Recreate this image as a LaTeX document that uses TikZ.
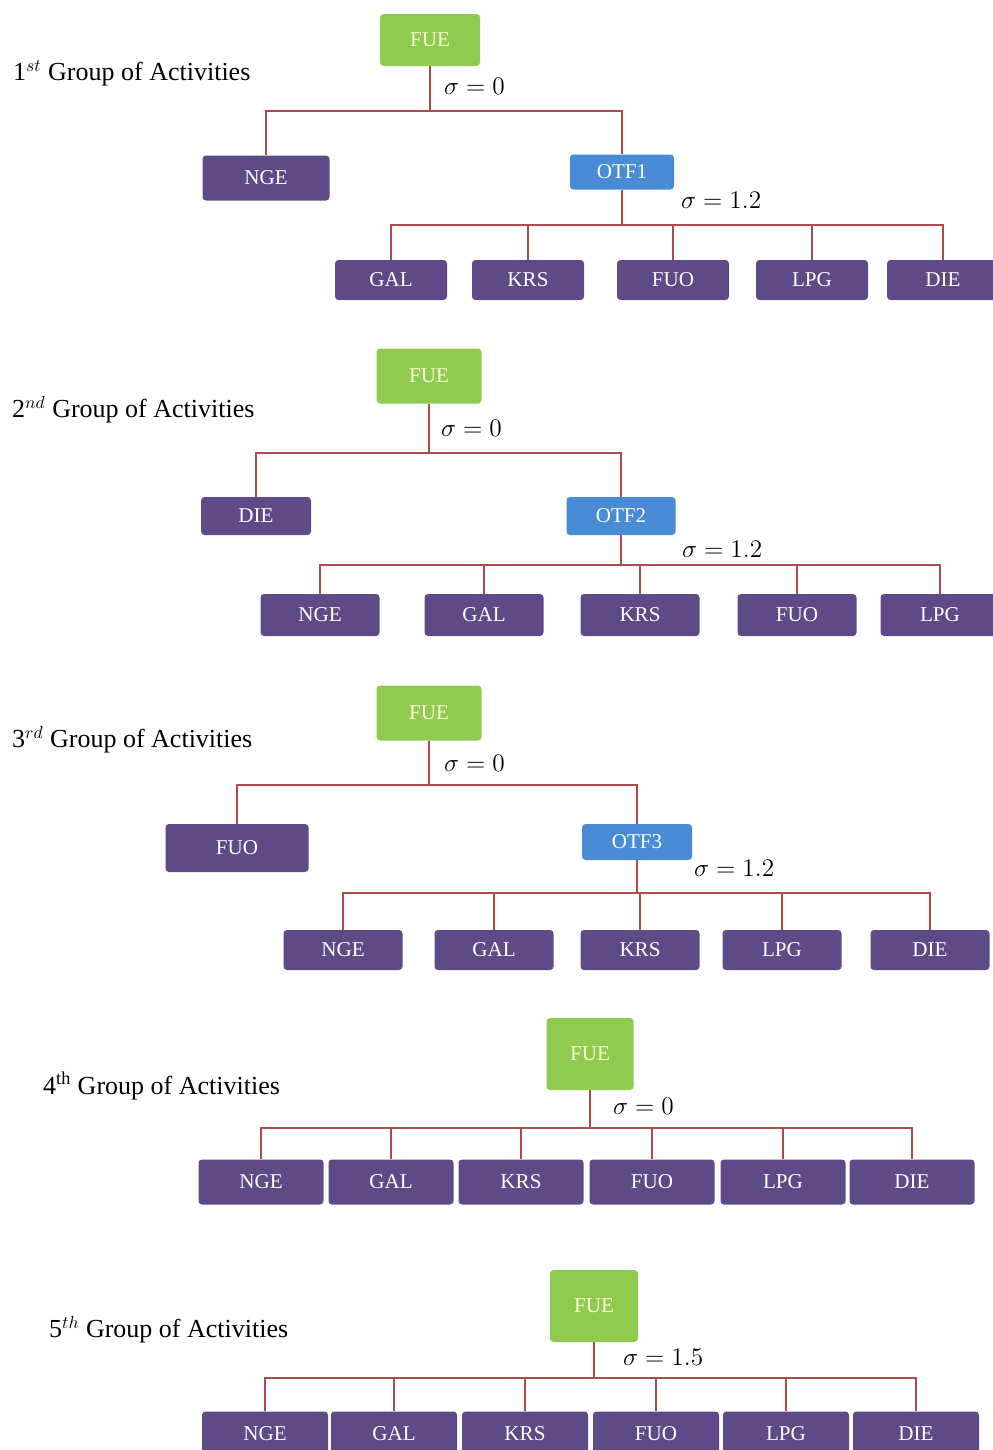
\documentclass[tikz,border=0pt]{standalone}
\usepackage{fontspec}
\setmainfont{Liberation Serif}
\usepackage{tikz}
\usetikzlibrary{positioning,calc}
\definecolor{fuegreen}{HTML}{8FCB4E}
\definecolor{leafpurple}{HTML}{5E4A86}
\definecolor{otfblue}{HTML}{4A8BD6}
\definecolor{linkred}{HTML}{AE4A4E}

\tikzset{
  boxsize/.style 2 args={minimum width=#1*0.02cm, minimum height=#2*0.02cm},
  box/.style={rounded corners=2pt, inner sep=0pt, text=white, font=\fontsize{12}{14}\selectfont},
  root/.style={box, fill=fuegreen, text=white!85!yellow},
  leaf/.style={box, fill=leafpurple},
  otf/.style={box, fill=otfblue},
  link/.style={draw=linkred, line width=1pt},
  grouplabel/.style={anchor=west, font=\fontsize{14.8}{17}\selectfont},
  sigmalabel/.style={anchor=west, font=\fontsize{14}{16}\selectfont}
}

\begin{document}
\begin{tikzpicture}[x=0.02cm,y=-0.02cm]
  \useasboundingbox (0,0) rectangle (993,1450);

  % 1st group
  \node[grouplabel] (lab1) at (7,73) {1$^{st}$ Group of Activities};
  \node[root, boxsize={100}{52}] (fue1) at (430,40) {FUE};
  \node[leaf, boxsize={127}{45}] (nge1) at (266,178) {NGE};
  \node[otf, boxsize={104}{35}] (otf1) at (622,172) {OTF1};
  \coordinate (j1) at (430,111);
  \coordinate (k1) at (622,225);
  \draw[link] (fue1.south) -- (j1) -| (nge1.north);
  \draw[link] (j1) -| (otf1.north);
  \draw[link] (otf1.south) -- (k1);
  \foreach \lbl/\cx in {GAL/391, KRS/528, FUO/673, LPG/812, DIE/943} {
    \node[leaf, boxsize={112}{40}] (a\lbl) at (\cx,280) {\lbl};
    \draw[link] (k1) -| (a\lbl.north);
  }
  \node[sigmalabel] (s1a) at (438,86) {$\sigma = 0$};
  \node[sigmalabel] (s1b) at (675,200) {$\sigma = 1.2$};

  % 2nd group
  \node[grouplabel] (lab2) at (6,410) {2$^{nd}$ Group of Activities};
  \node[root, boxsize={105}{55}] (fue2) at (429,376) {FUE};
  \node[leaf, boxsize={110}{38}] (die2) at (256,516) {DIE};
  \node[otf, boxsize={109}{38}] (otf2) at (621,516) {OTF2};
  \coordinate (j2) at (429,453);
  \coordinate (k2) at (621,565);
  \draw[link] (fue2.south) -- (j2) -| (die2.north);
  \draw[link] (j2) -| (otf2.north);
  \draw[link] (otf2.south) -- (k2);
  \foreach \lbl/\cx in {NGE/320, GAL/484, KRS/640, FUO/797, LPG/940} {
    \node[leaf, boxsize={119}{42}] (b\lbl) at (\cx,615) {\lbl};
    \draw[link] (k2) -| (b\lbl.north);
  }
  \node[sigmalabel] (s2a) at (435,428) {$\sigma = 0$};
  \node[sigmalabel] (s2b) at (676,549) {$\sigma = 1.2$};

  % 3rd group
  \node[grouplabel] (lab3) at (6,740) {3$^{rd}$ Group of Activities};
  \node[root, boxsize={105}{55}] (fue3) at (429,713) {FUE};
  \node[leaf, boxsize={143}{48}] (fuo3) at (237,848) {FUO};
  \node[otf, boxsize={110}{36}] (otf3) at (637,842) {OTF3};
  \coordinate (j3) at (429,785);
  \coordinate (k3) at (637,893);
  \draw[link] (fue3.south) -- (j3) -| (fuo3.north);
  \draw[link] (j3) -| (otf3.north);
  \draw[link] (otf3.south) -- (k3);
  \foreach \lbl/\cx in {NGE/343, GAL/494, KRS/640, LPG/782, DIE/930} {
    \node[leaf, boxsize={119}{40}] (c\lbl) at (\cx,950) {\lbl};
    \draw[link] (k3) -| (c\lbl.north);
  }
  \node[sigmalabel] (s3a) at (438,763) {$\sigma = 0$};
  \node[sigmalabel] (s3b) at (688,868) {$\sigma = 1.2$};

  % 4th group
  \node[grouplabel] (lab4) at (37,1086) {4\textsuperscript{th} Group of Activities};
  \node[root, boxsize={87}{72}] (fue4) at (590,1054) {FUE};
  \coordinate (j4) at (590,1128);
  \draw[link] (fue4.south) -- (j4);
  \foreach \lbl/\cx in {NGE/261, GAL/391, KRS/521, FUO/652, LPG/783, DIE/912} {
    \node[leaf, boxsize={125}{45}] (d\lbl) at (\cx,1182) {\lbl};
    \draw[link] (j4) -| (d\lbl.north);
  }
  \node[sigmalabel] (s4) at (607,1106) {$\sigma = 0$};

  % 5th group
  \node[grouplabel] (lab5) at (43,1330) {5$^{th}$ Group of Activities};
  \node[root, boxsize={88}{72}] (fue5) at (594,1306) {FUE};
  \coordinate (j5) at (594,1378);
  \draw[link] (fue5.south) -- (j5);
  \foreach \lbl/\cx in {NGE/265, GAL/394, KRS/525, FUO/656, LPG/786, DIE/916} {
    \node[leaf, boxsize={126}{45}] (e\lbl) at (\cx,1434) {\lbl};
    \draw[link] (j5) -| (e\lbl.north);
  }
  \node[sigmalabel] (s5) at (617,1357) {$\sigma = 1.5$};
\end{tikzpicture}
\end{document}
